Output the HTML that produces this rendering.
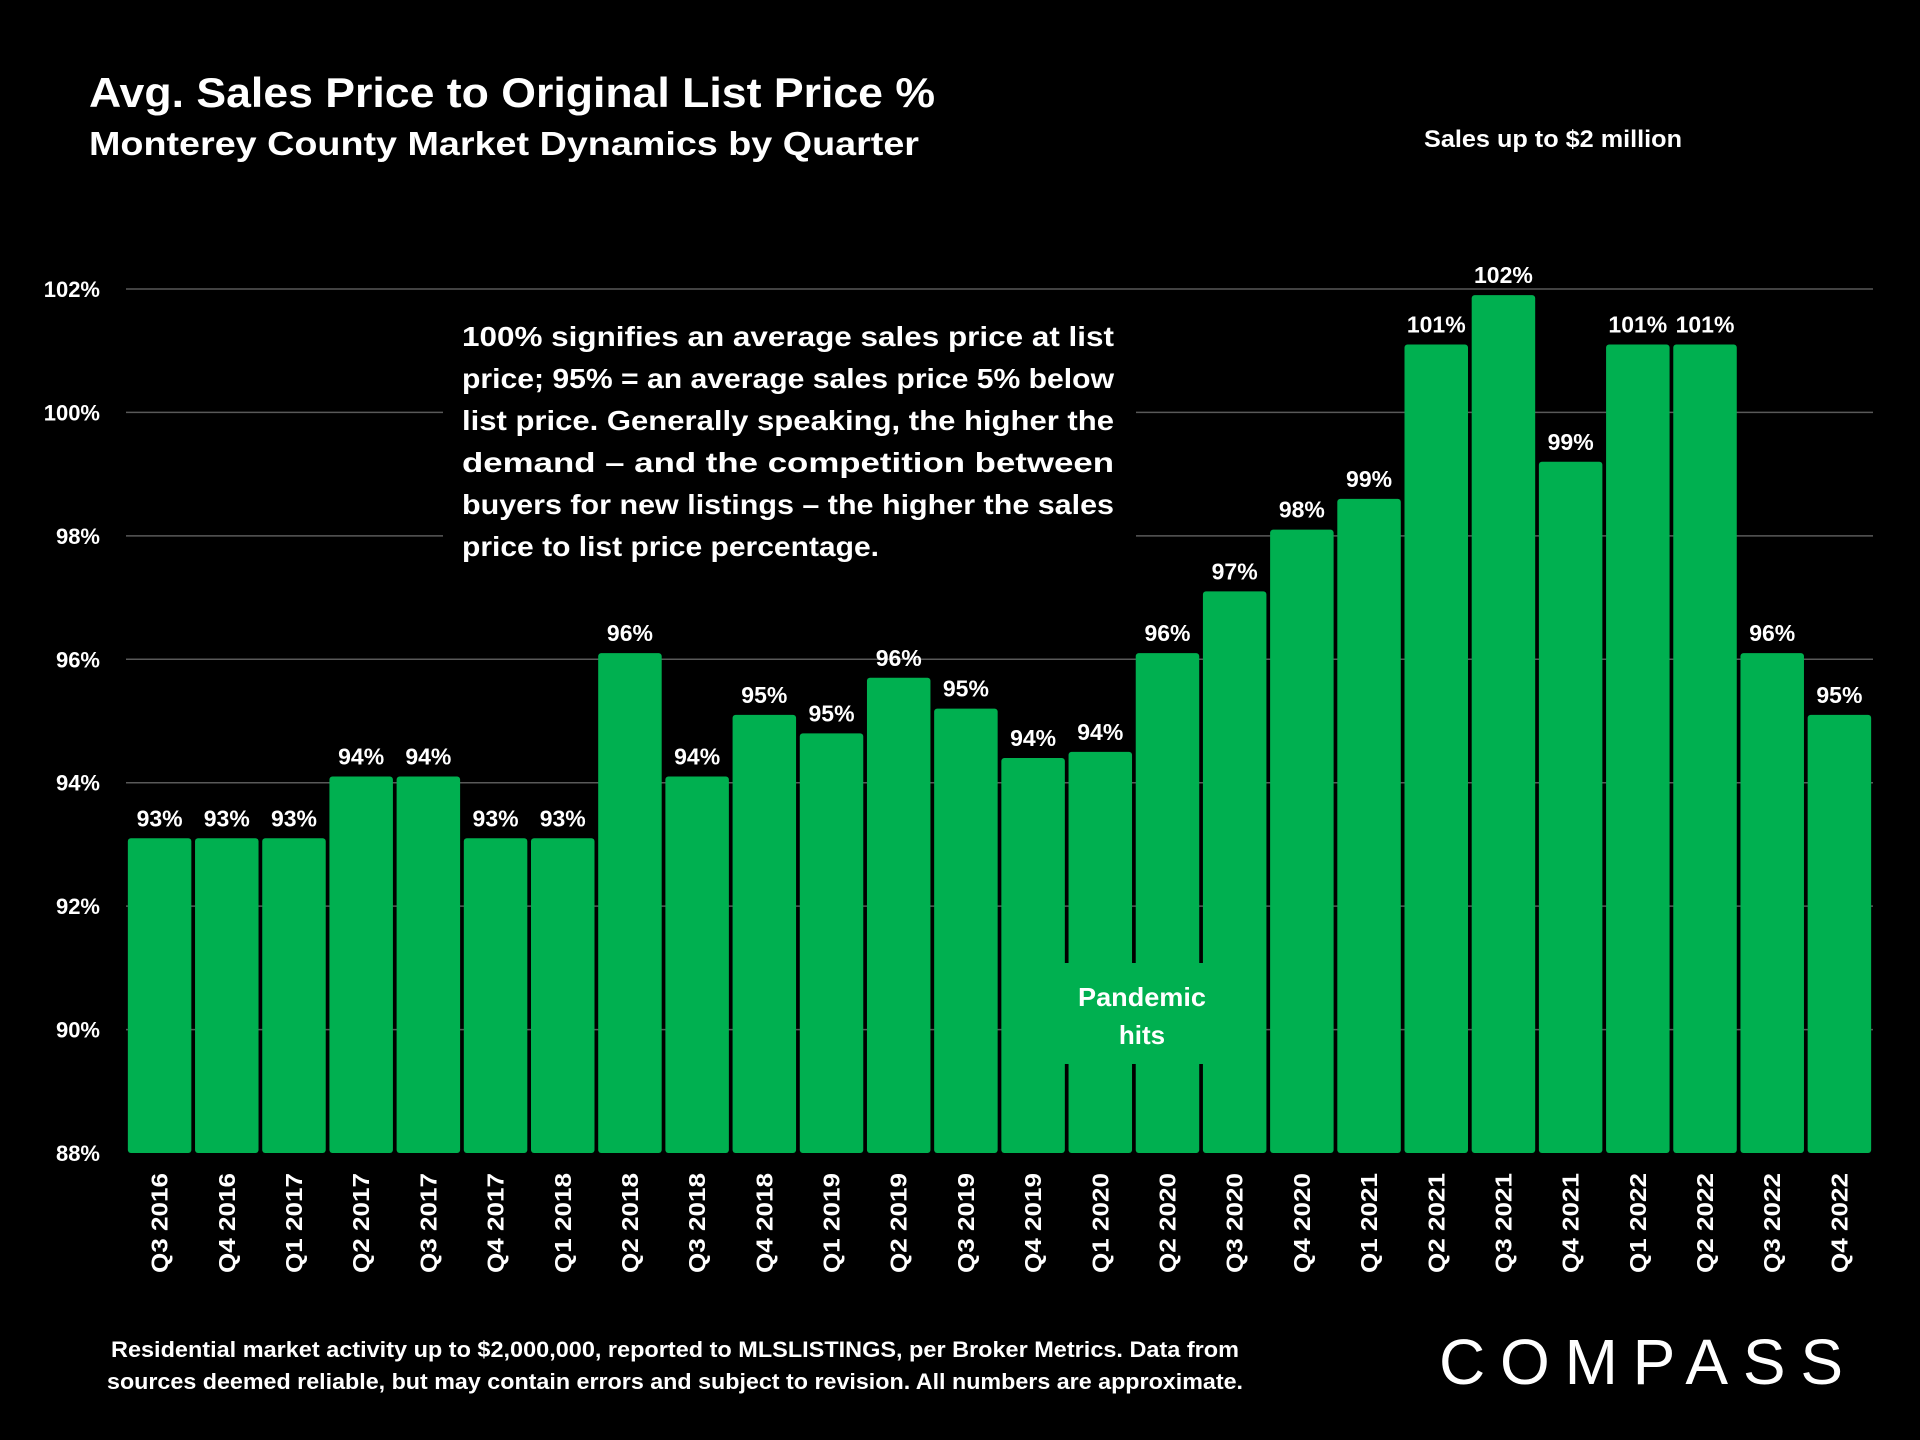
<!DOCTYPE html>
<html><head><meta charset="utf-8"><style>
html,body{margin:0;padding:0;background:#000;}
svg{display:block;}
text{font-family:"Liberation Sans",sans-serif;font-weight:bold;fill:#fff;}
</style></head><body>
<svg id="chart" width="1920" height="1440" viewBox="0 0 1920 1440">
<rect width="1920" height="1440" fill="#000"/>
<text x="89" y="107" font-size="42" textLength="846" lengthAdjust="spacingAndGlyphs">Avg. Sales Price to Original List Price %</text>
<text x="89" y="155" font-size="33" textLength="830" lengthAdjust="spacingAndGlyphs">Monterey County Market Dynamics by Quarter</text>
<text x="1553" y="147" font-size="24" text-anchor="middle" textLength="258" lengthAdjust="spacingAndGlyphs">Sales up to $2 million</text>
<g id="grid"></g>
<g id="yaxis"></g>
<g id="bars"></g>
<g id="xaxis"></g>
<g>
<rect x="443" y="304" width="693" height="262" fill="#000"/>
<text x="462" y="346" font-size="28" textLength="652" lengthAdjust="spacingAndGlyphs">100% signifies an average sales price at list</text>
<text x="462" y="388" font-size="28" textLength="652" lengthAdjust="spacingAndGlyphs">price; 95% = an average sales price 5% below</text>
<text x="462" y="430" font-size="28" textLength="652" lengthAdjust="spacingAndGlyphs">list price. Generally speaking, the higher the</text>
<text x="462" y="472" font-size="28" textLength="652" lengthAdjust="spacingAndGlyphs">demand  –  and  the  competition  between</text>
<text x="462" y="514" font-size="28" textLength="652" lengthAdjust="spacingAndGlyphs">buyers for new listings – the higher the sales</text>
<text x="462" y="556" font-size="28" textLength="417" lengthAdjust="spacingAndGlyphs">price to list price percentage.</text>
</g>
<g>
<rect x="1058" y="963" width="170" height="101" fill="#00B050"/>
<text x="1142" y="1006" font-size="26" text-anchor="middle" textLength="128" lengthAdjust="spacingAndGlyphs">Pandemic</text>
<text x="1142" y="1044" font-size="26" text-anchor="middle">hits</text>
</g>
<text x="675" y="1357" font-size="22" text-anchor="middle" textLength="1128" lengthAdjust="spacingAndGlyphs">Residential market activity up to $2,000,000, reported to MLSLISTINGS, per Broker Metrics. Data from</text>
<text x="675" y="1389" font-size="22" text-anchor="middle" textLength="1136" lengthAdjust="spacingAndGlyphs">sources deemed reliable, but may contain errors and subject to revision. All numbers are approximate.</text>
<text x="1439" y="1384" font-size="64" style="font-weight:normal" textLength="404" lengthAdjust="spacing">COMPASS</text>
</svg>
<script>
const categories=["Q3 2016","Q4 2016","Q1 2017","Q2 2017","Q3 2017","Q4 2017","Q1 2018","Q2 2018","Q3 2018","Q4 2018","Q1 2019","Q2 2019","Q3 2019","Q4 2019","Q1 2020","Q2 2020","Q3 2020","Q4 2020","Q1 2021","Q2 2021","Q3 2021","Q4 2021","Q1 2022","Q2 2022","Q3 2022","Q4 2022"];
const values=[93.1,93.1,93.1,94.1,94.1,93.1,93.1,96.1,94.1,95.1,94.8,95.7,95.2,94.4,94.5,96.1,97.1,98.1,98.6,101.1,101.9,99.2,101.1,101.1,96.1,95.1];
const valueLabels=["93%","93%","93%","94%","94%","93%","93%","96%","94%","95%","95%","96%","95%","94%","94%","96%","97%","98%","99%","101%","102%","99%","101%","101%","96%","95%"];
const yTicks=[88,90,92,94,96,98,100,102];
const yTickLabels=["88%","90%","92%","94%","96%","98%","100%","102%"];

const NS="http://www.w3.org/2000/svg";
const yMin=88,yMax=102,yTop=289,yBot=1153,xL=126,xR=1873;
const y=v=>yBot-(v-yMin)/(yMax-yMin)*(yBot-yTop);
const step=(xR-xL)/categories.length;
const xc=i=>xL+step*(i+0.5);
function mk(tag,attrs,parent){const e=document.createElementNS(NS,tag);for(const k in attrs)e.setAttribute(k,attrs[k]);parent.appendChild(e);return e;}
const grid=document.getElementById('grid'),yaxis=document.getElementById('yaxis'),bars=document.getElementById('bars'),xaxis=document.getElementById('xaxis');
yTicks.forEach((t,i)=>{
  if(t>yMin){const l=mk('line',{x1:xL,x2:xR,y1:y(t),y2:y(t),stroke:'#595959','stroke-width':1.5},grid);
  
  }
  const tx=mk('text',{x:100,y:y(t)+8,'font-size':22,'text-anchor':'end'},yaxis);
  tx.textContent=yTickLabels[i];
  
  
});
const bw=step*0.945;
values.forEach((v,i)=>{
  const r=mk('rect',{x:xc(i)-bw/2,y:y(v),width:bw,height:yBot-y(v),fill:'#00B050',rx:3},bars);
  
  
  const t=mk('text',{x:xc(i),y:y(v)-12,'font-size':23,'text-anchor':'middle'},bars);
  t.textContent=valueLabels[i];
  
  
  const xt=mk('text',{x:0,y:0,'font-size':23,'text-anchor':'end',transform:`translate(${xc(i)+8},1173) rotate(-90)`,textLength:100,lengthAdjust:'spacingAndGlyphs'},xaxis);
  xt.textContent=categories[i];
  
  
});
</script>
</body></html>
